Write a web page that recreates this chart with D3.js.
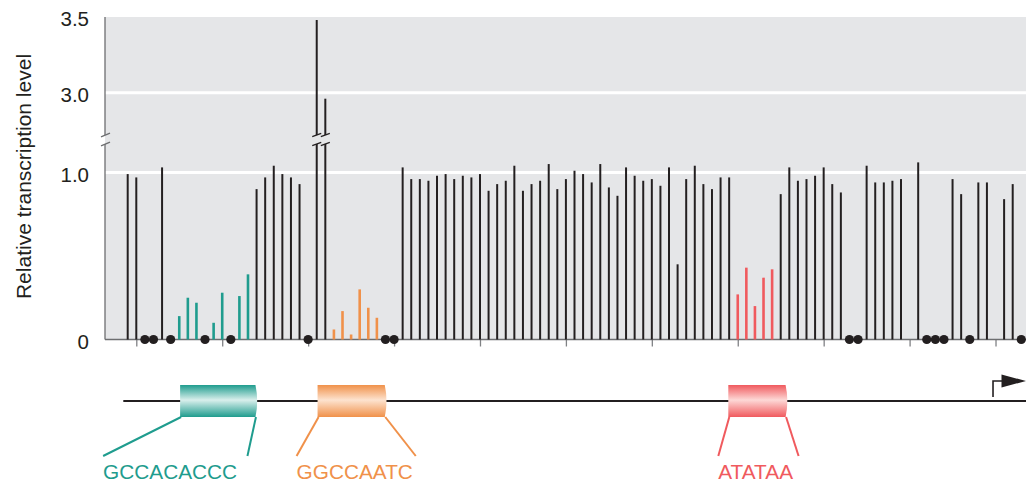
<!DOCTYPE html>
<html><head><meta charset="utf-8">
<script src="https://cdn.jsdelivr.net/npm/d3@7"></script>
<style>
html,body{margin:0;padding:0;background:#fff;}
svg{display:block;font-family:"Liberation Sans",Arial,Helvetica,sans-serif;}
</style></head>
<body><svg id="chart" width="1026" height="483"></svg>
<script>
// ---------------- data ----------------
const positions = [-101,-100,-97,-95,-94,-93,-91,-90,-88,-87,-86,-85,-84,-83,-82,-81,-79,-78,
  -77,-76,-75,-74,-73,-72,-69,-68,-67,-66,-65,-64,-63,-62,-61,-60,-59,-58,-57,-56,-55,-54,-53,-52,
  -51,-50,-49,-48,-47,-46,-45,-44,-43,-42,-41,-40,-39,-38,-37,-36,-35,-34,-33,-32,-31,-30,-29,-28,
  -27,-26,-25,-24,-23,-22,-21,-20,-19,-18,-15,-14,-13,-12,-11,-9,-5,-4,-2,-1,1,2];
const levels = [0.99,0.97,1.03,0.14,0.25,0.22,0.10,0.28,0.26,0.39,0.90,0.97,1.04,0.99,0.97,0.93,3.48,2.96,
  0.06,0.17,0.03,0.30,0.19,0.13,1.03,0.96,0.96,0.95,0.98,0.99,0.96,0.98,0.97,0.99,0.89,0.93,0.95,1.04,0.89,0.93,0.95,1.05,
  0.90,0.96,1.01,0.99,0.94,1.05,0.91,0.86,1.03,0.98,0.95,0.96,0.92,1.03,0.45,0.96,1.04,0.93,0.90,0.97,0.97,0.27,0.43,0.20,
  0.37,0.42,0.87,1.03,0.95,0.96,0.98,1.03,0.93,0.88,1.04,0.94,0.94,0.95,0.96,1.06,0.96,0.87,0.94,0.94,0.84,0.93];
// positions where the mutant gave no transcript (drawn as dots)
const silentPositions = [-99,-98,-96,-92,-89,-80,-71,-70,-17,-16,-8,-7,-6,-3,3];
// promoter elements
const elementNames = ["GCCACACCC","GGCCAATC","ATATAA"];
const elementMutFrom = [-95,-77,-30];
const elementMutTo = [-87,-72,-26];
const elementBoxStart = [-94.9,-78.9,-31.1];
const elementBoxEnd = [-85.9,-70.85,-24.2];
// axes
const yTickValues = [0, 1.0, 3.0, 3.5];
const yTickLabels = ["0","1.0","3.0","3.5"];
const xTickPositions = [-100,-90,-80,-70,-60,-50,-40,-30,-20,-10,0];
const yTitle = "Relative transcription level";

// ---------------- styles / layout ----------------
const elementColors = ["#1f9c8e","#f0914a","#f05a5e"];
const elementLight = ["#d9efec","#fde3cf","#fdd8d6"];
const barBlack = "#231f20";
const leaderFeet = [[-77,-10],[-21,29],[-10,11]]; // pixel offsets of leader feet from box ends
const breakLow = 1.17, breakHigh = 2.72;
const plotLeft = 105, plotRight = 1026, plotTop = 17;

const svg = d3.select("#chart");
const x = d3.scaleLinear().domain([-101, 2]).range([127.7, 1012.7]);
const y = d3.scaleLinear().domain([0, breakLow, breakHigh, 3.5]).range([339.5, 144, 135, 17]);

const groupOf = p => elementMutFrom.findIndex((f,i)=> p>=f && p<=elementMutTo[i]);
const bars = positions.map((p,i)=>({p, v: levels[i], g: groupOf(p)}));

// background
svg.append("rect").attr("x", plotLeft).attr("y", plotTop)
  .attr("width", plotRight-plotLeft).attr("height", y(0)-plotTop).attr("fill", "#e5e6e8");

// gridlines
svg.append("g").selectAll("line").data(yTickValues.filter(v=>v>0 && v<3.5)).join("line")
  .attr("x1", plotLeft).attr("x2", plotRight)
  .attr("y1", d=>y(d)).attr("y2", d=>y(d))
  .attr("stroke", "#fff").attr("stroke-width", 3);

// y axis labels
const yAxis = d3.axisLeft(y).tickValues(yTickValues)
  .tickFormat((d,i)=>yTickLabels[i]).tickSize(0).tickPadding(0);
const gy = svg.append("g").attr("transform", `translate(${plotLeft-16},0)`).call(yAxis);
gy.select(".domain").remove();
gy.selectAll("text").attr("font-size", 20.5).attr("fill", barBlack)
  .attr("font-family", '"Liberation Sans",Arial,sans-serif').attr("dy", "0.42em");

// left axis line with break
const axisColor = "#6d6e70";
svg.append("line").attr("x1", plotLeft).attr("x2", plotLeft).attr("y1", y(0)).attr("y2", y(breakLow)).attr("stroke", axisColor).attr("stroke-width", 1.3);
svg.append("line").attr("x1", plotLeft).attr("x2", plotLeft).attr("y1", y(breakHigh)).attr("y2", plotTop).attr("stroke", axisColor).attr("stroke-width", 1.3);
svg.append("g").selectAll("line").data([breakLow, breakHigh]).join("line")
  .attr("x1", plotLeft-4).attr("x2", plotLeft+5)
  .attr("y1", d=>y(d)+1.8).attr("y2", d=>y(d)-1.8)
  .attr("stroke", axisColor).attr("stroke-width", 1.3);

// bottom axis ticks
const xAxis = d3.axisBottom(x).tickValues(xTickPositions).tickSize(7).tickFormat("");
const gx = svg.append("g").attr("transform", `translate(0,${y(0)})`).call(xAxis);
gx.select(".domain").remove();
gx.selectAll("line").attr("stroke", "#808285").attr("stroke-width", 1.3);
svg.append("line").attr("x1", plotLeft).attr("x2", plotRight).attr("y1", y(0)).attr("y2", y(0))
  .attr("stroke", axisColor).attr("stroke-width", 1.5);

// y title
svg.append("text").attr("transform", `translate(31,176.5) rotate(-90)`)
  .attr("text-anchor", "middle").attr("font-size", 21).attr("fill", barBlack).text(yTitle);

// bars (unbroken)
const barColor = d => d.g < 0 ? barBlack : elementColors[d.g];
const barWidth = d => d.g < 0 ? 2 : 2.6;
svg.append("g").selectAll("line").data(bars).join("line")
  .attr("x1", d=>x(d.p)).attr("x2", d=>x(d.p))
  .attr("y1", y(0)).attr("y2", d=> d.v > breakLow ? y(breakLow) : y(d.v))
  .attr("stroke", barColor).attr("stroke-width", barWidth);
// upper parts of broken bars
const broken = bars.filter(d=>d.v > breakLow);
svg.append("g").selectAll("line").data(broken).join("line")
  .attr("x1", d=>x(d.p)).attr("x2", d=>x(d.p))
  .attr("y1", y(breakHigh)).attr("y2", d=>y(d.v))
  .attr("stroke", barBlack).attr("stroke-width", 2);
// break slashes on broken bars
svg.append("g").selectAll("line")
  .data(broken.flatMap(d=>[{p:d.p, v:breakLow},{p:d.p, v:breakHigh}])).join("line")
  .attr("x1", d=>x(d.p)-4.5).attr("x2", d=>x(d.p)+4.5)
  .attr("y1", d=>y(d.v)+1.6).attr("y2", d=>y(d.v)-1.6)
  .attr("stroke", barBlack).attr("stroke-width", 1.3);

// dots
svg.append("g").selectAll("circle").data(silentPositions).join("circle")
  .attr("cx", d=>x(d)).attr("cy", y(0)).attr("r", 4.6).attr("fill", barBlack);

// ---------------- promoter diagram ----------------
const dnaY = 401, boxTop = 385, boxBottom = 417, footY = 456, labelY = 479;
const defs = svg.append("defs");
elementNames.forEach((n,i)=>{
  const g = defs.append("linearGradient").attr("id", "grad"+i)
    .attr("x1",0).attr("x2",0).attr("y1",0).attr("y2",1);
  g.append("stop").attr("offset","0%").attr("stop-color", elementColors[i]);
  g.append("stop").attr("offset","47%").attr("stop-color", elementLight[i]);
  g.append("stop").attr("offset","100%").attr("stop-color", elementColors[i]);
});
svg.append("line").attr("x1", 123.3).attr("x2", plotRight).attr("y1", dnaY).attr("y2", dnaY)
  .attr("stroke", barBlack).attr("stroke-width", 2.2);

const els = elementNames.map((n,i)=>({n, i, x0: x(elementBoxStart[i]), x1: x(elementBoxEnd[i])}));
const eg = svg.append("g").selectAll("g").data(els).join("g");
eg.append("line").attr("x1", d=>d.x0+1).attr("y1", boxBottom)
  .attr("x2", d=>d.x0+leaderFeet[d.i][0]).attr("y2", footY)
  .attr("stroke", d=>elementColors[d.i]).attr("stroke-width", 2);
eg.append("line").attr("x1", d=>d.x1-1.5).attr("y1", boxBottom)
  .attr("x2", d=>d.x1+leaderFeet[d.i][1]).attr("y2", footY)
  .attr("stroke", d=>elementColors[d.i]).attr("stroke-width", 2);
eg.append("path")
  .attr("d", d=>`M${d.x0},${boxTop} H${d.x1-2} Q${d.x1+1.5},${(boxTop+boxBottom)/2} ${d.x1-2},${boxBottom} H${d.x0} Z`)
  .attr("fill", d=>`url(#grad${d.i})`);
eg.append("text").attr("x", d=>d.x0+leaderFeet[d.i][0]).attr("y", labelY)
  .attr("font-size", 20.8).attr("fill", d=>elementColors[d.i]).text(d=>d.n);

// transcription start arrow
const ax = x(0) - 2.5;
svg.append("path").attr("d", `M${ax},397 V381 H${ax+10}`).attr("fill","none")
  .attr("stroke", barBlack).attr("stroke-width", 1.6);
svg.append("path").attr("d", `M${ax+8.5},374.5 L${plotRight},381 L${ax+8.5},387.5 Z`).attr("fill", barBlack);
</script>
</body></html>
